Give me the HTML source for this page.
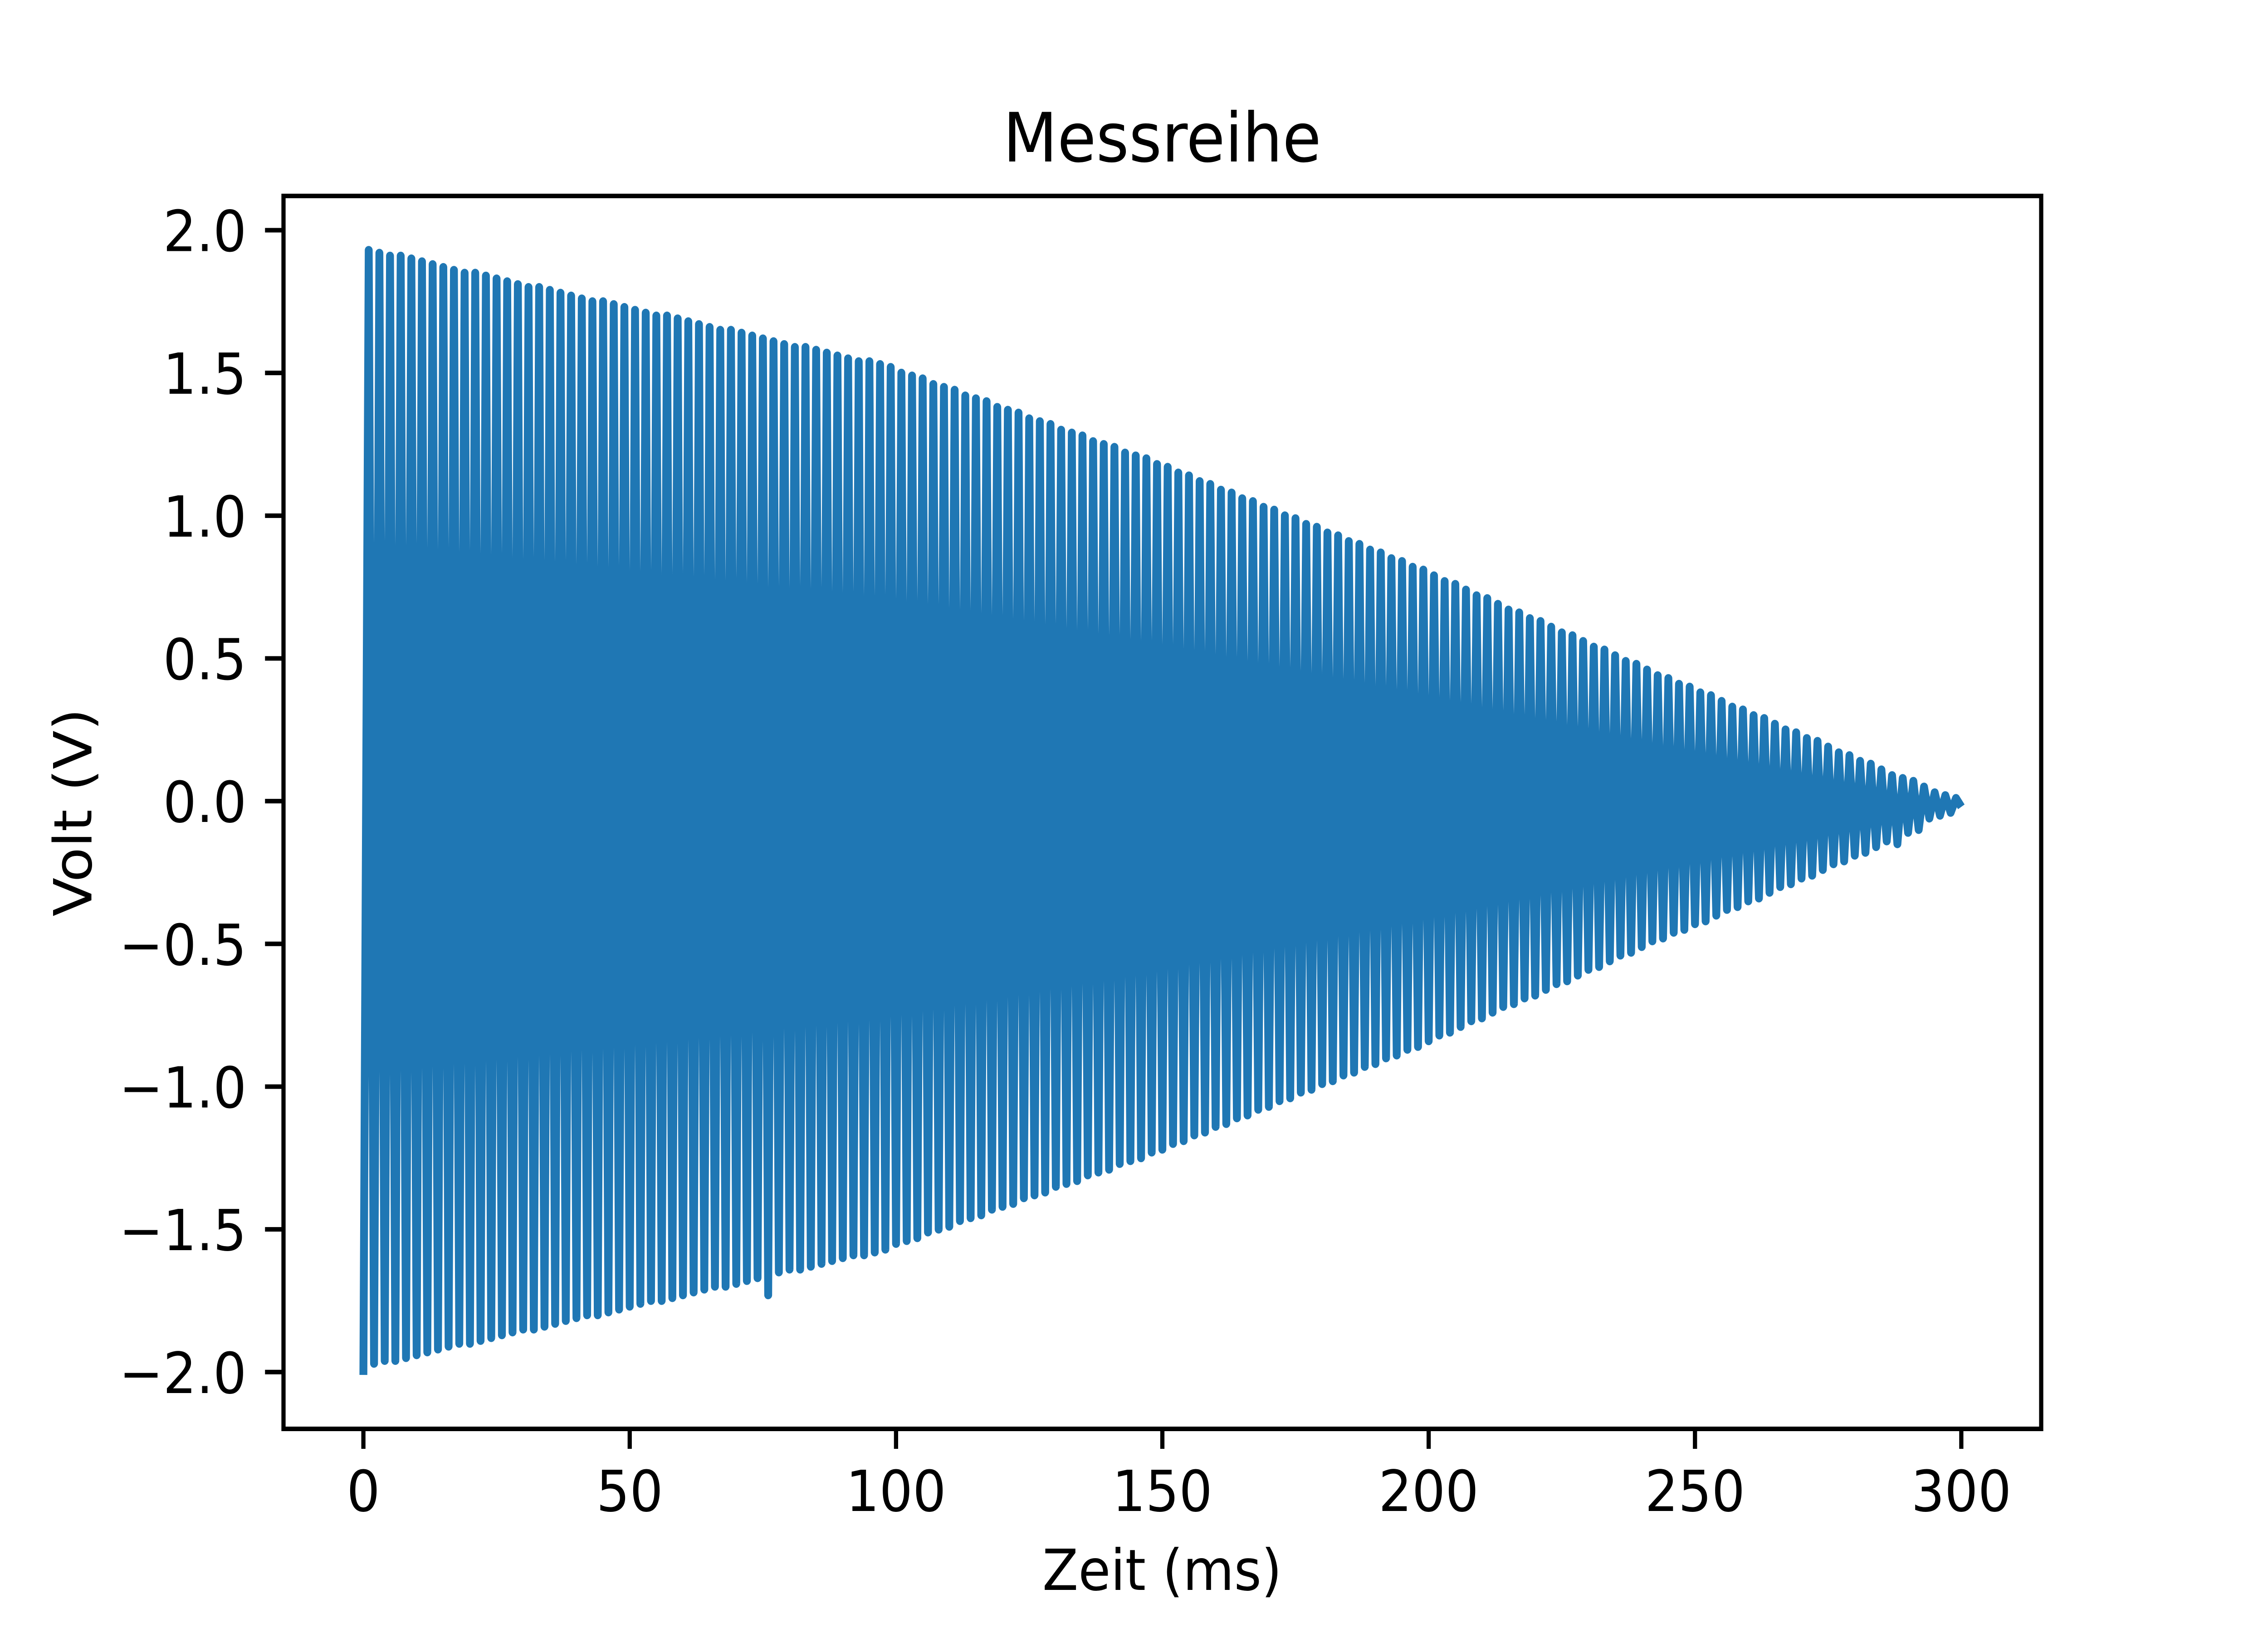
<!DOCTYPE html>
<html><head><meta charset="utf-8"><style>
html,body{margin:0;padding:0;background:#fff;overflow:hidden;}
svg{display:block;width:100vw;height:100vh;}
text{font-family:"DejaVu Sans","Liberation Sans",sans-serif;fill:#000;}
</style></head><body>
<svg id="chart" viewBox="0 0 5400 3600" preserveAspectRatio="none" xmlns="http://www.w3.org/2000/svg">
<rect x="0" y="0" width="5400" height="3600" fill="#fff"/>
<g id="plot"></g>
<g id="axes"></g>
<text x="2767" y="356" font-size="150" text-anchor="middle">Messreihe</text>
<text x="2767" y="3505" font-size="125" text-anchor="middle">Zeit (ms)</text>
<text x="175" y="1791" font-size="125" text-anchor="middle" dominant-baseline="central" transform="rotate(-90 175 1791)">Volt (V)</text>
</svg>
<script>
// Upper peaks (one per 2 ms cycle, at t = 1,3,5,...)
const peakValues = [
1.93,1.92,1.91,1.91,1.90,1.89,1.88,1.87,1.86,1.85,1.85,1.84,1.83,1.82,1.81,1.80,1.80,1.79,1.78,1.77,
1.76,1.75,1.75,1.74,1.73,1.72,1.71,1.70,1.70,1.69,1.68,1.67,1.66,1.65,1.65,1.64,1.63,1.62,1.61,1.60,
1.59,1.59,1.58,1.57,1.56,1.55,1.54,1.54,1.53,1.52,
1.50,1.49,1.48,1.46,1.45,1.44,1.42,1.41,1.40,1.38,1.37,1.36,1.34,1.33,1.32,1.30,1.29,1.28,1.26,1.25,1.24,1.22,1.21,1.20,1.18,
1.17,1.15,1.14,1.12,1.11,1.09,1.08,1.06,1.05,1.03,1.02,1.00,0.99,0.97,0.96,0.94,0.93,0.91,0.90,0.88,0.87,0.85,0.84,0.82,0.81,
0.79,0.77,0.76,0.74,0.72,0.71,0.69,0.67,0.66,0.64,0.63,0.61,0.59,0.58,0.56,0.54,0.53,0.51,0.49,0.48,0.46,0.44,0.43,0.41,0.40,
0.38,0.37,0.35,0.33,0.32,0.30,0.29,0.27,0.25,0.24,0.22,0.21,0.19,0.17,0.16,0.14,0.13,0.11,0.09,0.08,0.07,0.05,0.03,0.02,0.01];
// Lower troughs (t = 0,2,4,...)
const troughValues = [
-2.01,-1.97,-1.96,-1.96,-1.95,-1.94,-1.93,-1.92,-1.91,-1.90,-1.90,-1.89,-1.88,-1.87,-1.86,-1.85,-1.85,-1.84,-1.83,-1.82,
-1.81,-1.80,-1.80,-1.79,-1.78,-1.77,-1.76,-1.75,-1.75,-1.74,-1.73,-1.72,-1.71,-1.70,-1.70,-1.69,-1.68,-1.67,-1.73,-1.65,
-1.64,-1.64,-1.63,-1.62,-1.61,-1.60,-1.59,-1.59,-1.58,-1.57,
-1.55,-1.54,-1.53,-1.51,-1.50,-1.49,-1.47,-1.46,-1.45,-1.43,-1.42,-1.41,-1.39,-1.38,-1.37,-1.35,-1.34,-1.33,-1.31,-1.30,-1.29,-1.27,-1.26,-1.25,-1.23,
-1.22,-1.20,-1.19,-1.17,-1.16,-1.14,-1.13,-1.11,-1.10,-1.08,-1.07,-1.05,-1.04,-1.02,-1.01,-0.99,-0.98,-0.96,-0.95,-0.93,-0.92,-0.90,-0.89,-0.87,-0.86,
-0.84,-0.82,-0.81,-0.79,-0.77,-0.76,-0.74,-0.72,-0.71,-0.69,-0.68,-0.66,-0.64,-0.63,-0.61,-0.59,-0.58,-0.56,-0.54,-0.53,-0.51,-0.49,-0.48,-0.46,-0.45,
-0.43,-0.42,-0.40,-0.38,-0.37,-0.35,-0.34,-0.32,-0.30,-0.29,-0.27,-0.26,-0.24,-0.22,-0.21,-0.19,-0.18,-0.16,-0.14,-0.15,-0.11,-0.10,-0.06,-0.05,-0.04];
const finalValue = [-0.02];
const timeStepMs = [1];
const xTicks = [0,50,100,150,200,250,300];
const xTickLabels = ["0","50","100","150","200","250","300"];
const yTicks = [-2,-1.5,-1,-0.5,0,0.5,1,1.5,2];
const yTickLabels = ["\u22122.0","\u22121.5","\u22121.0","\u22120.5","0.0","0.5","1.0","1.5","2.0"];

const NS="http://www.w3.org/2000/svg";
const L=675,R=4860,T=432,B=3150;
const xMin=-15,xMax=315,yMin=-2.199,yMax=2.120;
function xs(v){return L+(v-xMin)/(xMax-xMin)*(R-L);}
function ys(v){return B-(v-yMin)/(yMax-yMin)*(B-T);}

const series=[];
for(let k=0;k<troughValues.length;k++){
  series.push(troughValues[k]);
  if(k<peakValues.length) series.push(peakValues[k]);
}
series.push(finalValue[0]);
let pts=series.map((v,i)=>xs(i*timeStepMs[0]).toFixed(1)+","+ys(v).toFixed(1)).join(" ");
const plot=document.getElementById("plot");
const line=document.createElementNS(NS,"polyline");


line.setAttribute("points",pts);
line.setAttribute("fill","none");
line.setAttribute("stroke","#1f77b4");
line.setAttribute("stroke-width","18.75");
line.setAttribute("stroke-linejoin","round");
line.setAttribute("stroke-linecap","butt");
plot.appendChild(line);

const axes=document.getElementById("axes");
const frame=document.createElementNS(NS,"rect");


frame.setAttribute("x",L);frame.setAttribute("y",T);
frame.setAttribute("width",R-L);frame.setAttribute("height",B-T);
frame.setAttribute("fill","none");frame.setAttribute("stroke","#000");
frame.setAttribute("stroke-width","10");frame.setAttribute("stroke-linejoin","miter");
axes.appendChild(frame);

xTicks.forEach((v,i)=>{
  const x=xs(v);
  const t=document.createElementNS(NS,"line");
  
  
  t.setAttribute("x1",x);t.setAttribute("x2",x);t.setAttribute("y1",B);t.setAttribute("y2",B+44);
  t.setAttribute("stroke","#000");t.setAttribute("stroke-width","10");
  axes.appendChild(t);
  const tx=document.createElementNS(NS,"text");
  
  
  tx.setAttribute("x",x);tx.setAttribute("y",B+181);
  tx.setAttribute("font-size","125");tx.setAttribute("text-anchor","middle");
  tx.textContent=xTickLabels[i];
  axes.appendChild(tx);
});
yTicks.forEach((v,i)=>{
  const y=ys(v);
  const t=document.createElementNS(NS,"line");
  
  
  t.setAttribute("x1",L-44);t.setAttribute("x2",L);t.setAttribute("y1",y);t.setAttribute("y2",y);
  t.setAttribute("stroke","#000");t.setAttribute("stroke-width","10");
  axes.appendChild(t);
  const tx=document.createElementNS(NS,"text");
  
  
  tx.setAttribute("x",L-88);tx.setAttribute("y",y+46);
  tx.setAttribute("font-size","125");tx.setAttribute("text-anchor","end");
  tx.textContent=yTickLabels[i];
  axes.appendChild(tx);
});
</script>
</body></html>
